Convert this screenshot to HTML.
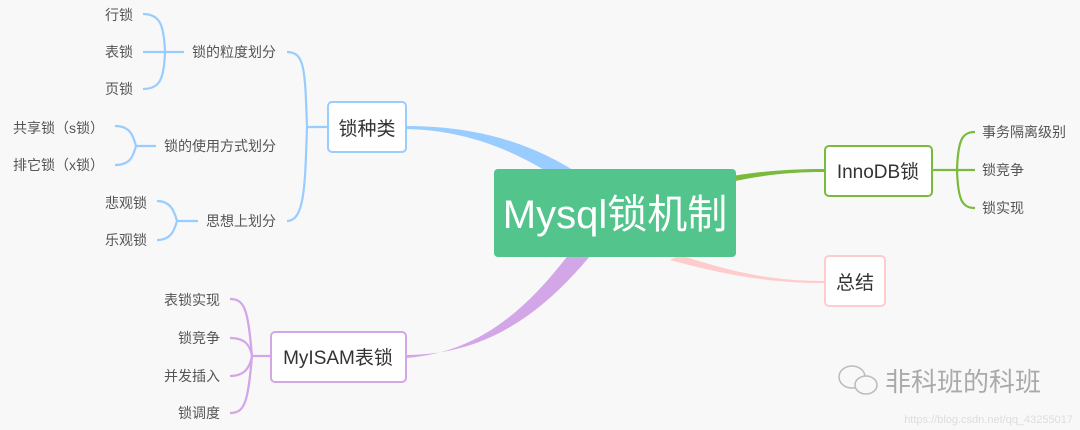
<!DOCTYPE html>
<html><head><meta charset="utf-8"><style>
html,body{margin:0;padding:0;background:#f8f8f8;}
svg{display:block;font-family:"Liberation Sans","Noto Sans CJK SC",sans-serif;}
</style></head><body>
<svg width="1080" height="430" viewBox="0 0 1080 430" xmlns="http://www.w3.org/2000/svg">
<rect width="1080" height="430" fill="#f8f8f8"/>
<path d="M406,126 C470,126 530,140 585,178 L560,180 C515,150 465,130 406,129 Z" fill="#99ccff"/>
<path d="M406,355 C480,355 540,320 598,246 L572,250 C520,320 470,353 406,358 Z" fill="#d3a6e8"/>
<path d="M720,178 C760,171 790,169 824,169 L824,172 C790,172 760,175 722,184 Z" fill="#7aba3c"/>
<path d="M680,255 C740,275 780,281 824,281 L824,283 C780,283 735,278 670,260 Z" fill="#ffcccc"/>
<g fill="none" stroke="#99ccff" stroke-width="2.2">
<path d="M287,52 C305,52 305,70 307,127 C305,184 305,221 287,221"/>
<path d="M307,127 L327,127"/>
<path d="M143,14 C160,14 164,25 165,52 C164,79 160,89 143,89"/>
<path d="M143,52 L184,52"/>
<path d="M115,126 C130,126 133,135 136,146 C133,157 130,165 115,165"/>
<path d="M136,146 L156,146"/>
<path d="M157,201 C170,201 174,210 177,221 C174,232 170,240 157,240"/>
<path d="M177,221 L198,221"/>
</g>
<g fill="none" stroke="#d3a6e8" stroke-width="2.2">
<path d="M230,299 C245,299 248,310 252,356 C248,402 245,413 230,413"/>
<path d="M230,338 C245,338 250,345 252,356 C250,367 245,376 230,376"/>
<path d="M252,356 L270,356"/>
</g>
<g fill="none" stroke="#7aba3c" stroke-width="2.2">
<path d="M975,132 C962,132 958,140 957,170 C958,200 962,208 975,208"/>
<path d="M933,170 L975,170"/>
</g>
<rect x="494" y="169" width="242" height="88" rx="4" fill="#52c48c"/>
<text x="615" y="228" font-size="40" fill="#fff" text-anchor="middle">Mysql锁机制</text>
<rect x="328" y="102" width="78" height="50" rx="4" fill="#fff" stroke="#99ccff" stroke-width="2"/>
<text x="367" y="135" font-size="19" fill="#333" text-anchor="middle">锁种类</text>
<rect x="271" y="332" width="135" height="50" rx="4" fill="#fff" stroke="#d3a6e8" stroke-width="2"/>
<text x="338" y="364" font-size="19" fill="#333" text-anchor="middle">MyISAM表锁</text>
<rect x="825" y="146" width="107" height="50" rx="4" fill="#fff" stroke="#7aba3c" stroke-width="2"/>
<text x="878" y="178" font-size="19" fill="#333" text-anchor="middle">InnoDB锁</text>
<rect x="825" y="256" width="60" height="50" rx="4" fill="#fff" stroke="#ffcccc" stroke-width="2"/>
<text x="855" y="289" font-size="19" fill="#333" text-anchor="middle">总结</text>
<g font-size="14" fill="#555">
<text x="105" y="20">行锁</text>
<text x="105" y="57">表锁</text>
<text x="105" y="94">页锁</text>
<text x="192" y="57">锁的粒度划分</text>
<text x="13" y="133">共享锁（s锁）</text>
<text x="13" y="170">排它锁（x锁）</text>
<text x="164" y="151">锁的使用方式划分</text>
<text x="105" y="208">悲观锁</text>
<text x="105" y="245">乐观锁</text>
<text x="206" y="226">思想上划分</text>
<g text-anchor="end">
<text x="220" y="305">表锁实现</text>
<text x="220" y="343">锁竞争</text>
<text x="220" y="381">并发插入</text>
<text x="220" y="418">锁调度</text>
</g>
<text x="982" y="137">事务隔离级别</text>
<text x="982" y="175">锁竞争</text>
<text x="982" y="213">锁实现</text>
</g>
<g fill="none" stroke="#bbb" stroke-width="1.5">
<ellipse cx="852" cy="377" rx="13" ry="11"/>
<ellipse cx="866" cy="385" rx="11" ry="9" fill="#f8f8f8"/>
</g>
<text x="885" y="391" font-size="26" fill="#aaa">非科班的科班</text>
<text x="1073" y="423" font-size="11" fill="#ddd" text-anchor="end">https://blog.csdn.net/qq_43255017</text>
</svg>
</body></html>
